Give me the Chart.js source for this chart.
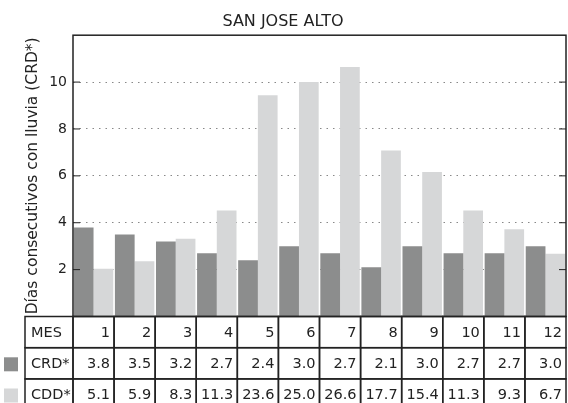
<!DOCTYPE html>
<html>
<head>
<meta charset="utf-8">
<script src="https://cdn.jsdelivr.net/npm/chart.js@4/dist/chart.umd.min.js"></script>
<style>
  html, body { margin: 0; padding: 0; background: #fff; }
  #wrap { width: 568px; height: 403px; }
</style>
</head>
<body>
<div id="wrap"><canvas id="chart" width="568" height="403"></canvas></div>
<script>
const months = ["1", "2", "3", "4", "5", "6", "7", "8", "9", "10", "11", "12"];
const crdValues = [3.8, 3.5, 3.2, 2.7, 2.4, 3.0, 2.7, 2.1, 3.0, 2.7, 2.7, 3.0];
const cddValues = [5.1, 5.9, 8.3, 11.3, 23.6, 25.0, 26.6, 17.7, 15.4, 11.3, 9.3, 6.7];
const yTicks = [2, 4, 6, 8, 10];

const darkGray = "#8c8d8d";
const lightGray = "#d6d7d8";
const fontName = "'DejaVu Sans', sans-serif";

// frame, inward ticks and the data table under the bars
const tablePlugin = {
    id: "tablePlugin",
    afterDraw(chart) {
        const ctx = chart.ctx;
        const area = chart.chartArea;
        const yScale = chart.scales.y;
        const colW = (area.right - area.left) / months.length;
        const rowH = 31.2;
        const labelLeft = 25;

        ctx.save();
        ctx.strokeStyle = "#222";
        ctx.lineWidth = 1.5;
        ctx.strokeRect(area.left, area.top, area.right - area.left, area.bottom - area.top);

        // inward tick marks on both sides
        ctx.lineWidth = 1;
        for (const t of yTicks) {
            const y = yScale.getPixelForValue(t);
            ctx.beginPath();
            ctx.moveTo(area.left, y);
            ctx.lineTo(area.left + 7, y);
            ctx.moveTo(area.right, y);
            ctx.lineTo(area.right - 7, y);
            ctx.stroke();
        }

        const rows = [
            {label: "MES", values: months, color: null},
            {label: "CRD*", values: crdValues.map(v => v.toFixed(1)), color: darkGray},
            {label: "CDD*", values: cddValues.map(v => v.toFixed(1)), color: lightGray}
        ];

        ctx.lineWidth = 1.5;
        ctx.font = "14.5px " + fontName;
        ctx.textBaseline = "middle";
        rows.forEach((row, r) => {
            const top = area.bottom + r * rowH;
            const mid = top + rowH / 2 + 1;

            ctx.strokeStyle = "#222";
            ctx.strokeRect(labelLeft, top, area.left - labelLeft, rowH);
            ctx.fillStyle = "#222";
            ctx.textAlign = "left";
            ctx.fillText(row.label, labelLeft + 6, mid);

            for (let i = 0; i < months.length; i++) {
                const x = area.left + i * colW;
                ctx.strokeRect(x, top, colW, rowH);
                ctx.textAlign = "right";
                ctx.fillText(row.values[i], x + colW - 4, mid);
            }

            if (row.color) {
                ctx.fillStyle = row.color;
                ctx.fillRect(4, mid - 7, 14, 14);
            }
        });
        ctx.restore();
    }
};

new Chart(document.getElementById("chart"), {
    type: "bar",
    data: {
        labels: months,
        datasets: [
            {
                label: "CRD*",
                data: crdValues,
                backgroundColor: darkGray,
                yAxisID: "y",
                categoryPercentage: 0.96,
                barPercentage: 1
            },
            {
                label: "CDD*",
                data: cddValues,
                backgroundColor: lightGray,
                yAxisID: "y2",
                categoryPercentage: 0.96,
                barPercentage: 1
            }
        ]
    },
    options: {
        responsive: false,
        animation: false,
        layout: {
            padding: {left: 0, right: 2, top: 0, bottom: 86.5}
        },
        plugins: {
            legend: {display: false},
            tooltip: {enabled: false},
            title: {
                display: true,
                text: "SAN JOSE ALTO",
                color: "#222",
                font: {family: fontName, size: 16, weight: "normal"},
                padding: {top: 12, bottom: 4}
            }
        },
        scales: {
            x: {
                display: false
            },
            y: {
                position: "left",
                min: 0,
                max: 12,
                afterFit: scale => { scale.width = 73; },
                border: {display: false, dash: [1.5, 5]},
                grid: {
                    drawTicks: false,
                    color: ctx => yTicks.includes(ctx.tick.value) ? "#888" : "rgba(0,0,0,0)",
                    lineWidth: 1
                },
                ticks: {
                    stepSize: 2,
                    padding: 6,
                    color: "#222",
                    font: {family: fontName, size: 14},
                    callback: v => yTicks.includes(v) ? String(v) : ""
                },
                title: {
                    display: true,
                    text: "Días consecutivos con lluvia (CRD*)",
                    color: "#222",
                    font: {family: fontName, size: 15.5},
                    padding: {top: 24, bottom: 0}
                }
            },
            y2: {
                display: false,
                min: 0,
                max: 30
            }
        }
    },
    plugins: [tablePlugin]
});
</script>
</body>
</html>
